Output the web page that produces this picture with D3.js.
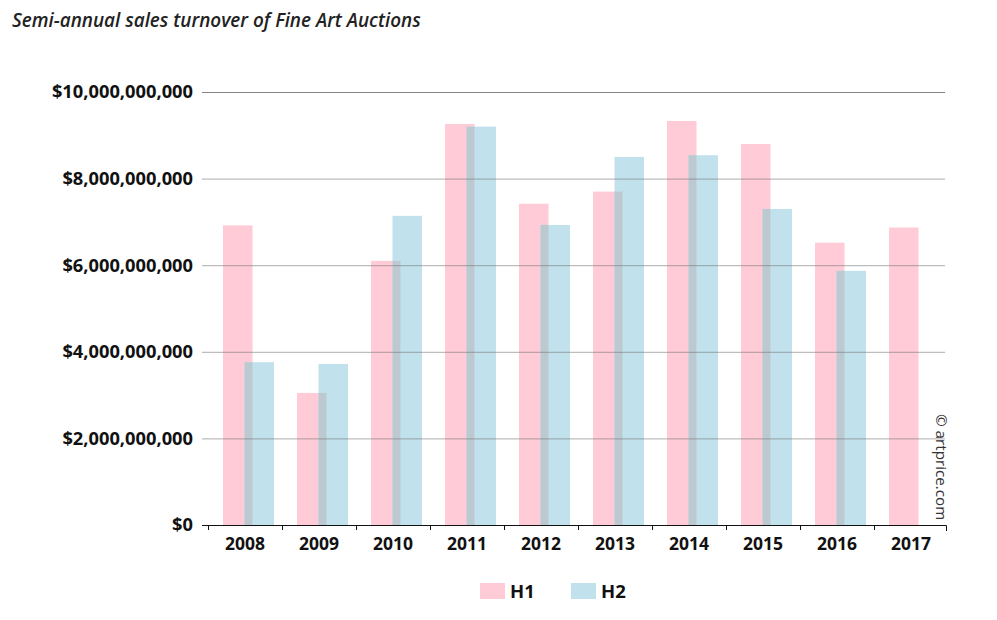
<!DOCTYPE html>
<html><head><meta charset="utf-8">
<script src="https://cdn.jsdelivr.net/npm/d3@7"></script>
<style>body{margin:0;background:#fff;} svg{display:block;font-family:"Open Sans",sans-serif;}</style>
</head><body>
<svg id="c" width="997" height="620"></svg>
<script>
const years = ["2008","2009","2010","2011","2012","2013","2014","2015","2016","2017"];
const h1 = [6.92e9, 3.05e9, 6.1e9, 9.26e9, 7.42e9, 7.7e9, 9.33e9, 8.8e9, 6.52e9, 6.87e9];
const h2 = [3.76e9, 3.72e9, 7.14e9, 9.2e9, 6.93e9, 8.5e9, 8.54e9, 7.3e9, 5.87e9, null];
const yTicks = [0, 2e9, 4e9, 6e9, 8e9, 10e9];
const seriesNames = ["H1", "H2"];
const colors = {H1:"#ffcbd7", H2:"#c1e1ec", overlap:"#bdc9d1"};

const svg = d3.select("#c");
const x = d3.scaleBand().domain(years).range([208, 948]);
const y = d3.scaleLinear().domain([0, 10e9]).range([525, 92]);
const bw = 29.5;
const p1 = 15, p2 = 36.5;

svg.append("text").attr("x", 12).attr("y", 27).attr("font-size", 18.9).attr("font-style", "italic")
  .attr("font-weight", 600).attr("fill", "#222").text("Semi-annual sales turnover of Fine Art Auctions");

const g = svg.append("g");
years.forEach((yr, i) => {
  const x0 = x(yr);
  g.append("rect").attr("x", x0 + p1).attr("width", bw).attr("y", y(h1[i])).attr("height", y(0) - y(h1[i])).attr("fill", colors.H1);
  if (h2[i] != null) {
    g.append("rect").attr("x", x0 + p2).attr("width", bw).attr("y", y(h2[i])).attr("height", y(0) - y(h2[i])).attr("fill", colors.H2);
    const m = Math.min(h1[i], h2[i]);
    g.append("rect").attr("x", x0 + p2).attr("width", (p1 + bw) - p2).attr("y", y(m)).attr("height", y(0) - y(m)).attr("fill", colors.overlap);
  }
});

// gridlines
svg.append("g").selectAll("line").data(yTicks.filter(d => d > 0)).join("line")
  .attr("x1", 202).attr("x2", 945).attr("y1", d => y(d) + 0.5).attr("y2", d => y(d) + 0.5)
  .attr("stroke", "#777").attr("stroke-opacity", d => d === 10e9 ? 0.9 : 0.6).attr("stroke-width", 1);

// y labels
svg.append("g").selectAll("text").data(yTicks).join("text")
  .attr("x", 193).attr("y", d => y(d)).attr("dy", "0.35em").attr("text-anchor", "end")
  .attr("font-size", 18.3).attr("font-weight", 700).attr("fill", "#111")
  .text(d => "$" + d3.format(",")(d));

// x axis
const xa = svg.append("g").attr("transform", "translate(0,525)")
  .call(d3.axisBottom(x).tickSize(0).tickPadding(13));
xa.select(".domain").attr("stroke", "#111").attr("d", "M202,0.5H946.5V6");
xa.selectAll("text").attr("font-size", 17.5).attr("font-weight", 700).attr("fill", "#111").attr("font-family", "'Open Sans',sans-serif");
xa.selectAll(".tickline").data(years).join("line").attr("class", "tickline")
  .attr("x1", d => x(d) + 0.5).attr("x2", d => x(d) + 0.5).attr("y1", 0).attr("y2", 5).attr("stroke", "#111");

// copyright
svg.append("text").attr("transform", "translate(936,414) rotate(90)").attr("font-size", 15.2)
  .attr("fill", "#333").text("© artprice.com");

// legend
const lg = svg.append("g");
const lx = [480, 571];
seriesNames.forEach((s, i) => {
  lg.append("rect").attr("x", lx[i]).attr("y", 583).attr("width", 25).attr("height", 16).attr("fill", colors[s]);
  lg.append("text").attr("x", lx[i] + 30).attr("y", 592).attr("dy", "0.35em").attr("font-size", 18.5)
    .attr("font-weight", 700).attr("fill", "#111").text(s);
});
</script>
</body></html>
